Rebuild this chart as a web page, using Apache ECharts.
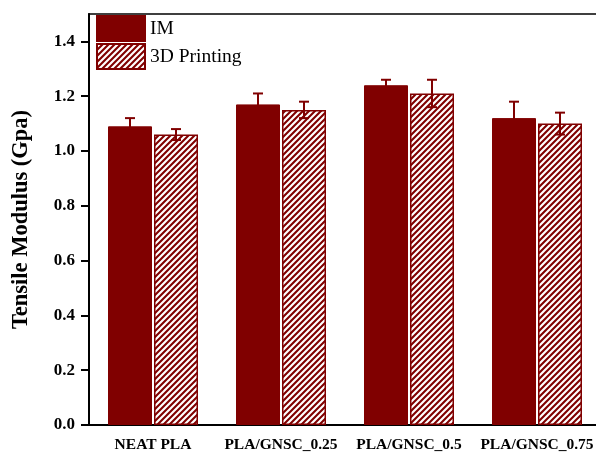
<!DOCTYPE html>
<html>
<head>
<meta charset="utf-8">
<script src="https://cdn.jsdelivr.net/npm/echarts@6/dist/echarts.min.js"></script>
<style>
html,body{margin:0;padding:0;background:#fff;}
#chart{width:596px;height:456px;}
</style>
</head>
<body>
<div id="chart"></div>
<script>
// ---- data ----
var categories = ['NEAT PLA', 'PLA/GNSC_0.25', 'PLA/GNSC_0.5', 'PLA/GNSC_0.75'];
var seriesNames = ['IM', '3D Printing'];
var imValues = [1.09, 1.17, 1.24, 1.12];
var imErrors = [0.03, 0.04, 0.02, 0.06];
var printValues = [1.06, 1.15, 1.21, 1.10];
var printErrors = [0.02, 0.03, 0.05, 0.04];
var yTickValues = [0, 0.2, 0.4, 0.6, 0.8, 1.0, 1.2, 1.4];

// ---- style ----
var RED = '#800000';
var BAR_W = 44;
var BAR_GAP_PX = 2;
var FONT = '"Liberation Serif", "Times New Roman", serif';

function makeHatch() {
  var s = 6;
  var c = document.createElement('canvas');
  c.width = s; c.height = s;
  var g = c.getContext('2d');
  g.fillStyle = '#ffffff';
  g.fillRect(0, 0, s, s);
  g.strokeStyle = RED;
  g.lineWidth = 2.1;
  g.beginPath();
  g.moveTo(0, s); g.lineTo(s, 0);
  g.moveTo(-1, 1); g.lineTo(1, -1);
  g.moveTo(s - 1, s + 1); g.lineTo(s + 1, s - 1);
  g.stroke();
  return c;
}
var hatch = { image: makeHatch(), repeat: 'repeat' };

function errorSeries(name, values, errors, sign) {
  var data = values.map(function (v, i) { return [i, v, errors[i]]; });
  return {
    type: 'custom',
    name: name + ' err',
    z: 5,
    silent: true,
    data: data,
    renderItem: function (params, api) {
      var i = api.value(0), v = api.value(1), e = api.value(2);
      var top = api.coord([i, v + e]);
      var bot = api.coord([i, v - e]);
      var off = sign * (BAR_W + BAR_GAP_PX) / 2;
      var x = top[0] + off;
      var cap = 5;
      var st = { stroke: RED, lineWidth: 2 };
      return {
        type: 'group',
        children: [
          { type: 'line', shape: { x1: x, y1: top[1], x2: x, y2: bot[1] }, style: st },
          { type: 'line', shape: { x1: x - cap, y1: top[1], x2: x + cap, y2: top[1] }, style: st },
          { type: 'line', shape: { x1: x - cap, y1: bot[1], x2: x + cap, y2: bot[1] }, style: st }
        ]
      };
    }
  };
}

var chart = echarts.init(document.getElementById('chart'), null, { renderer: 'canvas' });
chart.setOption({
  animation: false,
  backgroundColor: '#ffffff',
  textStyle: { fontFamily: FONT },
  grid: {
    left: 89, top: 14, width: 512, height: 411,
    outerBoundsMode: 'none', containLabel: false,
    show: true, borderColor: '#000', borderWidth: 1.5, backgroundColor: 'transparent'
  },
  legend: {
    left: 91, top: 10, orient: 'vertical',
    icon: 'rect',
    itemWidth: 48, itemHeight: 25, itemGap: 1,
    data: seriesNames,
    textStyle: { fontFamily: FONT, fontSize: 19.5, color: '#000' }
  },
  xAxis: {
    type: 'category',
    data: categories,
    boundaryGap: true,
    axisLine: { lineStyle: { color: '#000', width: 2 } },
    axisTick: { alignWithLabel: true, length: 8, lineStyle: { color: '#000', width: 2 } },
    axisLabel: { interval: 0, hideOverlap: false, margin: 12, fontFamily: FONT, fontWeight: 'bold', fontSize: 15.5, color: '#000' },
    splitLine: { show: false }
  },
  yAxis: {
    type: 'value',
    min: 0, max: 1.5,
    name: 'Tensile Modulus (Gpa)',
    nameLocation: 'middle',
    nameGap: 56,
    nameTextStyle: { fontFamily: FONT, fontWeight: 'bold', fontSize: 22.5, color: '#000' },
    axisLine: { show: true, lineStyle: { color: '#000', width: 2 } },
    axisTick: { show: true, length: 8, customValues: yTickValues, lineStyle: { color: '#000', width: 2 } },
    axisLabel: {
      margin: 14, customValues: yTickValues,
      fontFamily: FONT, fontWeight: 'bold', fontSize: 17, color: '#000',
      formatter: function (v) { return v.toFixed(1); }
    },
    splitLine: { show: false }
  },
  series: [
    {
      name: seriesNames[0], type: 'bar', data: imValues,
      barWidth: BAR_W, barGap: (BAR_GAP_PX / BAR_W * 100) + '%',
      itemStyle: { color: RED, borderColor: RED, borderWidth: 1 }
    },
    {
      name: seriesNames[1], type: 'bar', data: printValues,
      barWidth: BAR_W,
      itemStyle: { color: hatch, borderColor: RED, borderWidth: 1.5 }
    },
    errorSeries(seriesNames[0], imValues, imErrors, -1),
    errorSeries(seriesNames[1], printValues, printErrors, 1)
  ]
});
</script>
</body>
</html>
